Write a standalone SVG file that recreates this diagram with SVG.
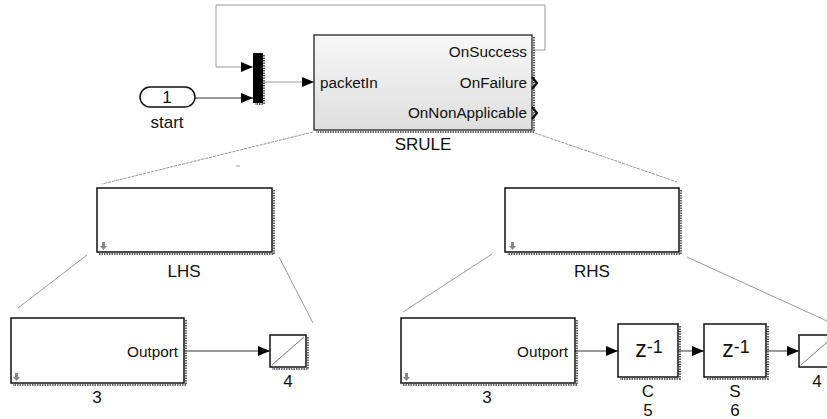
<svg xmlns="http://www.w3.org/2000/svg" width="827" height="419" viewBox="0 0 827 419">
<style>
text{font-family:"Liberation Sans",Arial,sans-serif;fill:#111}
.lbl{font-size:17px;text-anchor:middle}
.port{font-size:15.3px}
.zt{font-size:23px;text-anchor:middle}
.blk{fill:#fff;stroke:#111;stroke-width:1.5}
.shd{fill:none;stroke:#666;stroke-width:2;stroke-dasharray:1.5 1}
.wire{fill:none;stroke:#333;stroke-width:1}
.grey{fill:none;stroke:#999;stroke-width:1}
.zoomln{fill:none;stroke:#777;stroke-width:0.8;stroke-dasharray:3 1}
.icon{fill:#888;stroke:none}
.chev{fill:none;stroke:#111;stroke-width:2.2}
</style>
<defs>
<linearGradient id="g" x1="0" y1="0" x2="0" y2="1">
<stop offset="0" stop-color="#f7f7f7"/>
<stop offset="1" stop-color="#dedede"/>
</linearGradient>
<marker id="ar" markerUnits="userSpaceOnUse" markerWidth="13" markerHeight="10" refX="12" refY="5" orient="auto">
<path d="M0,0 L12,5 L0,10 z" fill="#000"/>
</marker>
</defs>

<g id="connectors">
<polyline class="grey" points="533,50 545,50 545,5 216,5 216,67 253,67" marker-end="url(#ar)"/>
<line class="wire" x1="195" y1="98" x2="253" y2="98" marker-end="url(#ar)"/>
<line class="grey" x1="263" y1="82" x2="314" y2="82" marker-end="url(#ar)"/>
<line class="wire" x1="184" y1="351" x2="270" y2="351" marker-end="url(#ar)"/>
<line class="wire" x1="575" y1="351" x2="618" y2="351" marker-end="url(#ar)"/>
<line class="wire" x1="678" y1="351" x2="704" y2="351" marker-end="url(#ar)"/>
<line class="wire" x1="766" y1="351" x2="799" y2="351" marker-end="url(#ar)"/>
<line class="zoomln" x1="313" y1="132" x2="102" y2="184"/>
<line class="zoomln" x1="535" y1="133" x2="677" y2="182"/>
<line class="grey" x1="87" y1="255" x2="18" y2="308"/>
<line class="grey" x1="279" y1="257" x2="313" y2="323"/>
<line class="grey" x1="492" y1="254" x2="403" y2="312"/>
<line class="grey" x1="687" y1="257" x2="827" y2="321"/>
<line class="grey" x1="236" y1="166" x2="240" y2="166"/>
</g>

<g id="start">
<rect x="140" y="87" width="55" height="20" rx="10" fill="#fff" stroke="#111" stroke-width="1.5"/>
<text class="lbl" x="167" y="103">1</text>
<text class="lbl" x="167" y="128">start</text>
</g>

<g id="mux">
<path class="shd" d="M264,55 V104 H255"/>
<rect x="253" y="53" width="10" height="50" fill="#000"/>
</g>

<g id="srule">
<path class="shd" d="M534,37 V132 H316"/>
<rect x="314" y="35" width="218" height="95" fill="url(#g)" stroke="#111" stroke-width="1.2"/>
<text class="port" x="320" y="88">packetIn</text>
<text class="port" x="527" y="57" text-anchor="end">OnSuccess</text>
<text class="port" x="527" y="88" text-anchor="end">OnFailure</text>
<text class="port" x="527" y="118" text-anchor="end">OnNonApplicable</text>
<polyline class="chev" points="532,77 537,83 532,89"/>
<polyline class="chev" points="532,107 537,113 532,119"/>
<text class="lbl" x="423" y="150">SRULE</text>
</g>

<g id="lhs">
<path class="shd" d="M274,190 V254 H99"/>
<rect class="blk" x="97" y="188" width="175" height="64"/>
<path class="icon" d="M102,242 h3 v4 h2 l-3.5,4 l-3.5,-4 h2 z"/>
<text class="lbl" x="184" y="277">LHS</text>
</g>

<g id="rhs">
<path class="shd" d="M681,190 V254 H507"/>
<rect class="blk" x="505" y="188" width="174" height="64"/>
<path class="icon" d="M511,242 h3 v4 h2 l-3.5,4 l-3.5,-4 h2 z"/>
<text class="lbl" x="592" y="277">RHS</text>
</g>

<g id="lhs-sub">
<path class="shd" d="M186,320 V385 H13"/>
<rect class="blk" x="11" y="318" width="173" height="65"/>
<path class="icon" d="M15,373 h3 v4 h2 l-3.5,4 l-3.5,-4 h2 z"/>
<text class="port" x="178" y="357" text-anchor="end">Outport</text>
<text class="lbl" x="97" y="403">3</text>
</g>

<g id="lhs-out">
<path class="shd" d="M308,337 V369 H272"/>
<rect class="blk" x="270" y="335" width="36" height="32"/>
<line x1="272" y1="365" x2="304" y2="337" stroke="#555" stroke-width="0.8"/>
<text class="lbl" x="288" y="387">4</text>
</g>

<g id="rhs-sub">
<path class="shd" d="M577,320 V385 H403"/>
<rect class="blk" x="401" y="318" width="174" height="65"/>
<path class="icon" d="M405,373 h3 v4 h2 l-3.5,4 l-3.5,-4 h2 z"/>
<text class="port" x="568" y="357" text-anchor="end">Outport</text>
<text class="lbl" x="487" y="403">3</text>
</g>

<g id="delay-c">
<path class="shd" d="M680,326 V379 H620"/>
<rect class="blk" x="618" y="324" width="60" height="53"/>
<text class="zt" x="649" y="357">z<tspan font-size="18" dy="-4">-1</tspan></text>
<text class="lbl" x="648" y="397">C</text>
<text class="lbl" x="648" y="416">5</text>
</g>

<g id="delay-s">
<path class="shd" d="M768,326 V379 H706"/>
<rect class="blk" x="704" y="324" width="62" height="53"/>
<text class="zt" x="736" y="357">z<tspan font-size="18" dy="-4">-1</tspan></text>
<text class="lbl" x="735" y="397">S</text>
<text class="lbl" x="735" y="416">6</text>
</g>

<g id="rhs-out">
<rect class="blk" x="799" y="335" width="36" height="32"/>
<line x1="801" y1="365" x2="833" y2="337" stroke="#555" stroke-width="0.8"/>
<text class="lbl" x="817" y="387">4</text>
</g>
</svg>
